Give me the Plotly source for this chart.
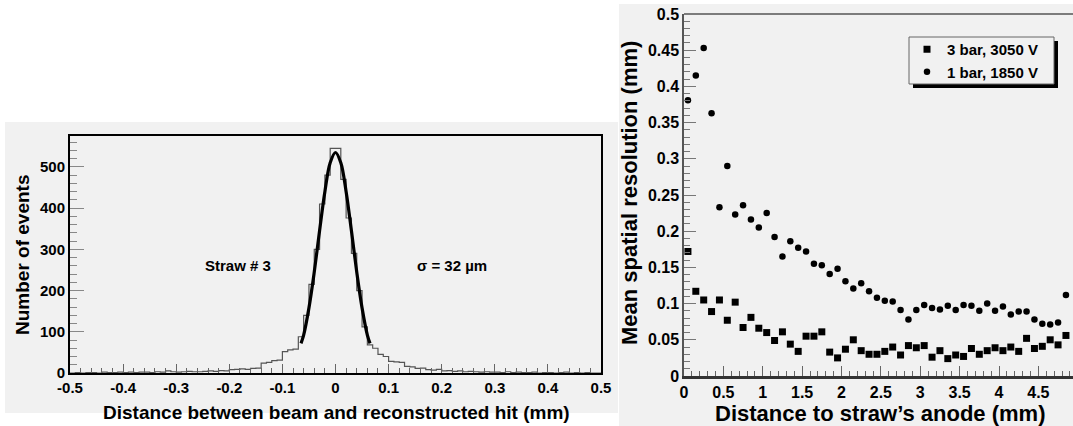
import numpy as np
import plotly.graph_objects as go

W, H = 1073, 426
GREY = "#f1f1f1"
FONT = "Liberation Sans, Arial, sans-serif"

# left panel: histogram of (beam - reconstructed hit), bins of 0.01 mm from -0.5 to 0.5
bin_width = 0.01
hist_counts = [0, 1, 0, 1, 1, 0, 2, 1, 1, 2,
               1, 2, 1, 2, 2, 1, 3, 2, 5, 3,
               2, 3, 4, 3, 3, 4, 5, 4, 6, 5,
               8, 9, 10, 9, 11, 12, 24, 26, 30, 31,
               52, 56, 58, 88, 140, 215, 300, 410, 480, 545,
               545, 470, 376, 290, 200, 112, 68, 60, 45, 40,
               28, 27, 26, 16, 15, 11, 12, 8, 7, 9,
               5, 6, 4, 5, 3, 4, 3, 2, 3, 2,
               2, 1, 3, 1, 2, 1, 1, 2, 0, 1,
               1, 0, 1, 2, 0, 1, 0, 1, 0, 0]
# gaussian fit curve
fit_x = [-0.065, -0.06, -0.05, -0.04, -0.03, -0.02, -0.01, 0.0,
         0.01, 0.02, 0.03, 0.04, 0.05, 0.06, 0.065]
fit_y = [72, 92, 158, 245, 345, 440, 510, 535,
         510, 440, 345, 245, 158, 92, 72]
left_xticks = [-0.5, -0.4, -0.3, -0.2, -0.1, 0, 0.1, 0.2, 0.3, 0.4, 0.5]
left_xlabels = ["-0.5", "-0.4", "-0.3", "-0.2", "-0.1", "0", "0.1", "0.2", "0.3", "0.4", "0.5"]

# right panel: mean spatial resolution vs distance to anode
dist = [0.05, 0.15, 0.25, 0.35, 0.45, 0.55, 0.65, 0.75, 0.85, 0.95,
        1.05, 1.15, 1.25, 1.35, 1.45, 1.55, 1.65, 1.75, 1.85, 1.95,
        2.05, 2.15, 2.25, 2.35, 2.45, 2.55, 2.65, 2.75, 2.85, 2.95,
        3.05, 3.15, 3.25, 3.35, 3.45, 3.55, 3.65, 3.75, 3.85, 3.95,
        4.05, 4.15, 4.25, 4.35, 4.45, 4.55, 4.65, 4.75, 4.85]
res_3bar = [0.172, 0.117, 0.105, 0.089, 0.105, 0.077, 0.102, 0.067, 0.081, 0.066,
            0.060, 0.049, 0.061, 0.044, 0.034, 0.055, 0.055, 0.061, 0.033, 0.025,
            0.037, 0.050, 0.035, 0.030, 0.030, 0.034, 0.040, 0.029, 0.042, 0.039,
            0.042, 0.026, 0.035, 0.024, 0.029, 0.027, 0.038, 0.030, 0.035, 0.039,
            0.035, 0.040, 0.034, 0.052, 0.038, 0.041, 0.050, 0.043, 0.056]
res_1bar = [0.381, 0.415, 0.453, 0.363, 0.233, 0.290, 0.223, 0.236, 0.216, 0.205,
            0.225, 0.192, 0.165, 0.186, 0.177, 0.172, 0.155, 0.153, 0.141, 0.148,
            0.131, 0.121, 0.128, 0.117, 0.108, 0.104, 0.103, 0.091, 0.078, 0.091,
            0.098, 0.094, 0.092, 0.097, 0.091, 0.098, 0.097, 0.090, 0.100, 0.090,
            0.096, 0.085, 0.089, 0.089, 0.078, 0.072, 0.071, 0.074, 0.112]


def fx(x):
    return x / W


def fy(y):
    return 1 - y / H


fig = go.Figure()

# step histogram: left bin edges plus closing edge
edges = -0.5 + bin_width * np.arange(len(hist_counts) + 1)
fig.add_trace(go.Scatter(x=edges, y=hist_counts + [hist_counts[-1]], mode="lines",
                         line=dict(color="#555555", width=1.2, shape="hv"),
                         xaxis="x", yaxis="y", showlegend=False))
fig.add_trace(go.Scatter(x=fit_x, y=fit_y, mode="lines",
                         line=dict(color="black", width=3.2, shape="spline"),
                         xaxis="x", yaxis="y", showlegend=False))

fig.add_trace(go.Scatter(x=dist, y=res_3bar, mode="markers", name="3 bar, 3050 V",
                         marker=dict(symbol="square", size=7, color="black"),
                         xaxis="x2", yaxis="y2"))
fig.add_trace(go.Scatter(x=dist, y=res_1bar, mode="markers", name="1 bar, 1850 V",
                         marker=dict(symbol="circle", size=6.5, color="black"),
                         xaxis="x2", yaxis="y2"))

tickfont = dict(family=FONT, size=15, color="black", weight="bold")

fig.update_layout(
    template="none",
    width=W, height=H,
    margin=dict(l=0, r=0, t=0, b=0, autoexpand=False),
    paper_bgcolor="white",
    plot_bgcolor=GREY,
    font=dict(family=FONT, color="black"),
    xaxis=dict(domain=[fx(70), fx(601)], range=[-0.5, 0.5], anchor="y", automargin=False,
               showgrid=False, zeroline=False, showline=True, mirror=True,
               linecolor="black", linewidth=2,
               tickvals=left_xticks, ticktext=left_xlabels,
               ticks="inside", ticklen=9, tickcolor="#666", tickwidth=1,
               minor=dict(dtick=0.02, ticks="inside", ticklen=5, tickcolor="#666"),
               tickfont=tickfont),
    yaxis=dict(domain=[fy(373), fy(136)], range=[0, 575], anchor="x", automargin=False,
               showgrid=False, zeroline=False, showline=True, mirror=True,
               linecolor="black", linewidth=2,
               dtick=100, ticks="inside", ticklen=14, tickcolor="#888", tickwidth=1,
               minor=dict(dtick=20, ticks="inside", ticklen=7, tickcolor="#888"),
               tickfont=tickfont),
    xaxis2=dict(domain=[fx(684), 1.0], range=[0, (1073 - 684) / 78.75], anchor="y2",
                automargin=False,
                showgrid=False, zeroline=False, showline=True,
                linecolor="#333", linewidth=2.5,
                dtick=0.5, ticks="inside", ticklen=10, tickcolor="#666", tickwidth=1,
                minor=dict(dtick=0.1, ticks="inside", ticklen=5, tickcolor="#666"),
                tickfont=dict(family=FONT, size=16, color="black", weight="bold")),
    yaxis2=dict(domain=[fy(376), fy(14)], range=[0, 0.5], anchor="x2", automargin=False,
                showgrid=False, zeroline=False, showline=True,
                linecolor="#555", linewidth=1.5,
                dtick=0.05, ticks="inside", ticklen=12, tickcolor="#777", tickwidth=1,
                minor=dict(dtick=0.01, ticks="inside", ticklen=6, tickcolor="#777"),
                tickfont=dict(family=FONT, size=16, color="black", weight="bold")),
    legend=dict(x=fx(907), y=fy(33), xanchor="left", yanchor="top",
                bgcolor="rgba(0,0,0,0)", borderwidth=0,
                font=dict(family=FONT, size=15, color="black", weight="bold"),
                itemwidth=30, tracegroupgap=0),
)

shapes = [
    # grey panels behind each figure
    dict(type="rect", xref="paper", yref="paper", layer="below",
         x0=fx(5), x1=fx(618), y0=fy(413), y1=fy(122),
         fillcolor=GREY, line=dict(width=0)),
    dict(type="rect", xref="paper", yref="paper", layer="below",
         x0=fx(619), x1=1.0, y0=0, y1=fy(4),
         fillcolor=GREY, line=dict(width=0)),
    # top frame of the right panel
    dict(type="line", xref="paper", yref="paper",
         x0=fx(684), x1=1.0, y0=fy(14), y1=fy(14),
         line=dict(color="#555", width=1.5)),
    # legend shadow and box
    dict(type="rect", xref="paper", yref="paper",
         x0=fx(913), x1=fx(1058), y0=fy(88), y1=fy(41),
         fillcolor="black", line=dict(width=0)),
    dict(type="rect", xref="paper", yref="paper",
         x0=fx(909), x1=fx(1054), y0=fy(84), y1=fy(37),
         fillcolor=GREY, line=dict(color="#666", width=1)),
]
fig.update_layout(shapes=shapes)

title_font = dict(family=FONT, color="black", weight="bold")
annotations = [
    dict(text="Distance between beam and reconstructed hit (mm)", x=fx(336), y=fy(412),
         font=dict(size=19, **title_font)),
    dict(text="Number of events", x=fx(22), y=fy(255), textangle=-90,
         font=dict(size=19, **title_font)),
    dict(text="Distance to straw\u2019s anode (mm)", x=fx(880), y=fy(413),
         font=dict(size=22, **title_font)),
    dict(text="Mean spatial resolution (mm)", x=fx(629), y=fy(193), textangle=-90,
         font=dict(size=22, **title_font)),
    dict(text="Straw # 3", x=fx(238), y=fy(265), font=dict(size=15, **title_font)),
    dict(text="\u03c3 = 32 \u00b5m", x=fx(452), y=fy(265), font=dict(size=15, **title_font)),
]
for a in annotations:
    a.update(xref="paper", yref="paper", showarrow=False, xanchor="center", yanchor="middle")
fig.update_layout(annotations=annotations)

# drop the default 8px body margin so the figure sits at the page corner
fig.write_html("out.html", config={"displayModeBar": False},
               post_script="document.body.style.margin='0';")
